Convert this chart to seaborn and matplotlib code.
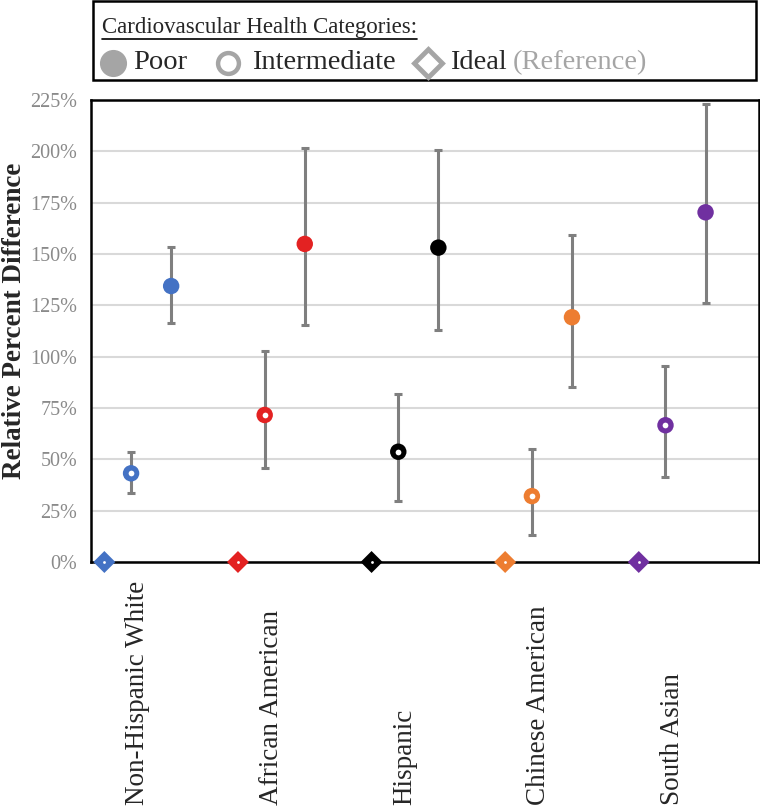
import numpy as np
import pandas as pd
import matplotlib
matplotlib.use("Agg")
import matplotlib.pyplot as plt
import matplotlib.transforms as mtransforms
from matplotlib.patches import Rectangle
import seaborn as sns

# data (relative percent difference vs. ideal CVH)
groups = ["Non-Hispanic White", "African American", "Hispanic",
          "Chinese American", "South Asian"]
colors = ["#4472C4", "#E32222", "#000000", "#ED7D31", "#7030A0"]

poor = [134.4, 154.9, 153.1, 119.2, 170.3]
poor_lo = [116.4, 115.3, 112.8, 85.2, 126.3]
poor_hi = [153.2, 201.8, 200.6, 159.3, 222.9]

inter = [43.2, 71.6, 53.7, 32.1, 66.6]
inter_lo = [33.5, 45.6, 29.9, 13.0, 41.5]
inter_hi = [53.4, 102.8, 82.0, 55.0, 95.6]

ideal = [0, 0, 0, 0, 0]

yticks = [0, 25, 50, 75, 100, 125, 150, 175, 200, 225]

sns.set_style("white")
plt.rcParams["font.family"] = ["Liberation Serif", "DejaVu Serif"]

# long table, x = group index + offset within the group
offsets = {"Ideal": 0.1, "Intermediate": 0.3, "Poor": 0.6}
rows = []
for i, g in enumerate(groups):
    rows.append((g, "Ideal", ideal[i], ideal[i], ideal[i]))
    rows.append((g, "Intermediate", inter[i], inter_lo[i], inter_hi[i]))
    rows.append((g, "Poor", poor[i], poor_lo[i], poor_hi[i]))
df = pd.DataFrame(rows, columns=["group", "cat", "value", "lo", "hi"])
df["x"] = df["group"].map({g: i for i, g in enumerate(groups)}) + df["cat"].map(offsets)

W, H = 760, 807
fig = plt.figure(figsize=(W / 100, H / 100), dpi=100)
ax = fig.add_axes([91 / W, 1 - 562 / H, 668 / W, 462 / H])

pal = dict(zip(groups, colors))

# error bars
eb = df[df["cat"] != "Ideal"]
ax.errorbar(eb["x"], eb["value"],
            yerr=[eb["value"] - eb["lo"], eb["hi"] - eb["value"]],
            fmt="none", ecolor="#7f7f7f", elinewidth=2.2, capsize=2.6,
            capthick=2.2, zorder=2)

# poor: filled circles
sns.scatterplot(data=df[df["cat"] == "Poor"], x="x", y="value", hue="group",
                palette=pal, marker="o", s=140, linewidth=0, legend=False,
                ax=ax, zorder=4)
# intermediate: ring = filled circle + white centre
sub = df[df["cat"] == "Intermediate"]
sns.scatterplot(data=sub, x="x", y="value", hue="group", palette=pal,
                marker="o", s=140, linewidth=0, legend=False, ax=ax, zorder=4)
sns.scatterplot(data=sub, x="x", y="value", color="white", marker="o", s=17,
                linewidth=0, legend=False, ax=ax, zorder=5)
# ideal: diamonds on the axis
sub = df[df["cat"] == "Ideal"]
sns.scatterplot(data=sub, x="x", y="value", hue="group", palette=pal,
                marker="D", s=125, linewidth=0, legend=False, ax=ax, zorder=6,
                clip_on=False)
sns.scatterplot(data=sub, x="x", y="value", color="white", marker="o", s=4,
                linewidth=0, legend=False, ax=ax, zorder=7, clip_on=False)

ax.set_xlim(0, 5)
ax.set_ylim(0, 225)
ax.set_yticks(yticks)
ax.set_yticklabels([f"{v}%" for v in yticks], color="#8a8a8a", fontsize=14.5)
ax.set_xticks([])
ax.set_xlabel("")
ax.set_ylabel("")
ax.tick_params(axis="y", length=0, pad=10)
ax.yaxis.grid(True, color="#d9d9d9", linewidth=1.5)
ax.set_axisbelow(True)
for sp in ax.spines.values():
    sp.set_visible(True)
    sp.set_color("black")
    sp.set_linewidth(1.8)

# group labels, rotated, hanging from the bottom of the figure
trans = mtransforms.blended_transform_factory(ax.transData, ax.transAxes)
for i, g in enumerate(groups):
    ax.text(i + 0.35, -0.527, g, transform=trans, rotation=90, ha="center",
            va="bottom", fontsize=19.5)

fig.text(15 / W, 1 - 321 / H, "Relative Percent Difference", rotation=90,
         ha="center", va="center", fontsize=19.5, fontweight="bold")

# legend box drawn in pixel coordinates
lg = fig.add_axes([0, 0, 1, 1], zorder=10)
lg.set_xlim(0, W)
lg.set_ylim(H, 0)
lg.axis("off")
lg.add_patch(Rectangle((93, 1), 663, 79, facecolor="white", edgecolor="black",
                       linewidth=1.8))
t = lg.text(102, 33, "Cardiovascular Health Categories:", fontsize=16.5,
            ha="left", va="baseline")
fig.canvas.draw()
bb = t.get_window_extent().transformed(lg.transData.inverted())
lg.plot([bb.x0, bb.x1], [39, 39], color="black", linewidth=1.2)

lgray = "#a5a5a5"
lg.plot([113], [63], marker="o", markersize=18.5, color=lgray, linestyle="none")
lg.text(133, 69, "Poor", fontsize=20.5, ha="left", va="baseline")
lg.plot([228], [63], marker="o", markersize=15, markerfacecolor="white",
        markeredgecolor=lgray, markeredgewidth=3.2, linestyle="none")
lg.text(252, 69, "Intermediate", fontsize=20.5, ha="left", va="baseline")
lg.plot([428], [63], marker="D", markersize=14, markerfacecolor="white",
        markeredgecolor=lgray, markeredgewidth=3.5, linestyle="none")
t2 = lg.text(450, 69, "Ideal", fontsize=20.5, ha="left", va="baseline")
fig.canvas.draw()
bb2 = t2.get_window_extent().transformed(lg.transData.inverted())
lg.text(bb2.x1 + 6, 69, "(Reference)", fontsize=20.5, ha="left", va="baseline",
        color=lgray)

fig.savefig("out.png", dpi=100)
